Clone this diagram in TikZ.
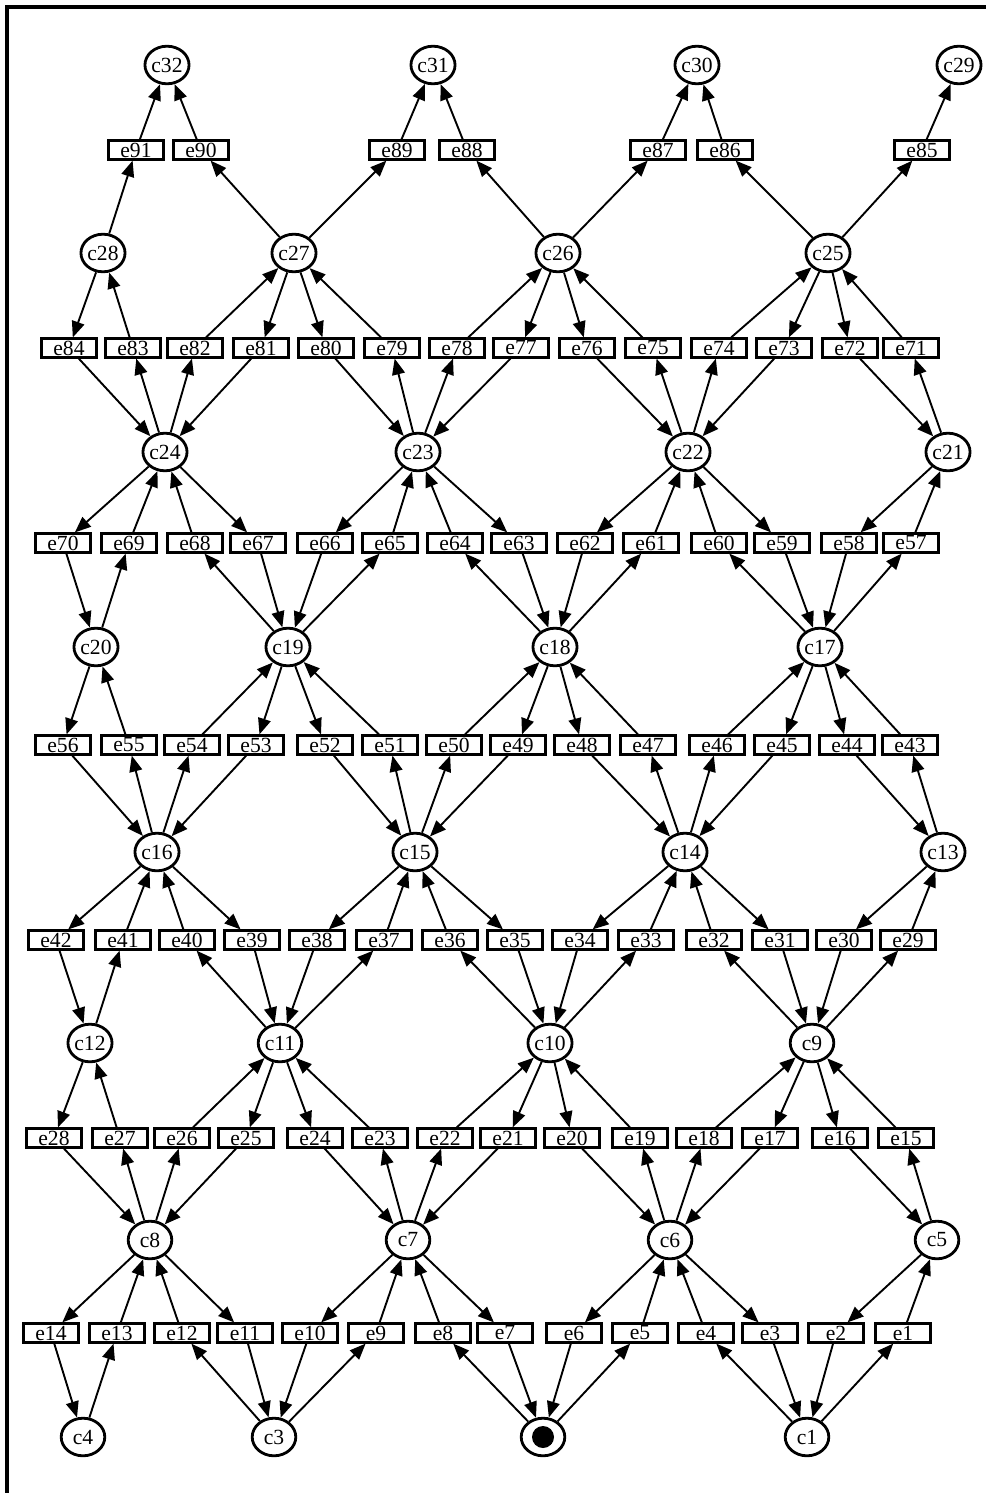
\documentclass[tikz,border=0pt]{standalone}
\usepackage{fontspec}
\setmainfont{Liberation Serif}
\usepackage{tikz}
\usetikzlibrary{arrows.meta, shapes.geometric}
\colorlet{PNline}{black}

\tikzset{
  cond/.style={ellipse, draw=PNline, line width=1.4pt, minimum width=21.8pt, minimum height=18.8pt,
    inner sep=0pt, font=\fontsize{10.8}{12}\selectfont},
  event/.style={rectangle, draw=PNline, line width=1.4pt, minimum width=27.2pt, minimum height=9.2pt,
    inner sep=0pt, font=\fontsize{10.8}{12}\selectfont},
  arc/.style={PNline, line width=0.95pt, -{Triangle[length=8pt,width=6.4pt]}},
  token/.style={circle, fill=PNline, inner sep=0pt, minimum size=11pt}
}

\begin{document}
\begin{tikzpicture}[x=0.5pt, y=-0.5pt]
        \useasboundingbox (0,0) rectangle (986,1493);
        \draw[PNline, line width=2pt] (7,1493) -- (7,7) -- (986,7);
        % conditions
        \foreach \n/\x/\y in {c32/167/65, c31/433/65, c30/697/65, c29/959/65,
            c28/103/253, c27/294/253, c26/558/253, c25/828/253,
            c24/165/452, c23/418/452, c22/688/452, c21/948/452,
            c20/96/647, c19/288/647, c18/555/647, c17/820/647,
            c16/157/852, c15/415/852, c14/685/852, c13/943/852,
            c12/90/1043, c11/280/1043, c10/550/1043, c9/812/1043,
            c8/150/1240, c7/408/1240, c6/670/1240, c5/937/1240,
            c4/83/1437, c3/274/1437, c2/543/1437, c1/807/1437}
          \node[cond] (\n) at (\x,\y) {\n};
        \node[token] (tok) at (c2) {};
        % events
        \foreach \n/\x/\y in {e91/136/150, e90/201/150, e89/397/150, e88/467/150,
            e87/658/150, e86/725/150, e85/922/150,
            e84/69/348, e83/133/348, e82/195/348, e81/261/348, e80/326/348, e79/392/348, e78/457/348,
            e77/521/348, e76/587/348, e75/653/348, e74/719/348, e73/784/348, e72/850/348, e71/911/348,
            e70/63/543, e69/129/543, e68/195/543, e67/258/543, e66/325/543, e65/390/543, e64/455/543,
            e63/519/543, e62/585/543, e61/651/543, e60/719/543, e59/782/543, e58/849/543, e57/911/543,
            e56/63/745, e55/129/745, e54/192/745, e53/256/745, e52/325/745, e51/390/745, e50/454/745,
            e49/518/745, e48/582/745, e47/648/745, e46/717/745, e45/782/745, e44/847/745, e43/910/745,
            e42/56/940, e41/123/940, e40/187/940, e39/252/940, e38/317/940, e37/384/940, e36/450/940,
            e35/515/940, e34/580/940, e33/646/940, e32/714/940, e31/780/940, e30/844/940, e29/908/940,
            e28/54/1138, e27/120/1138, e26/182/1138, e25/246/1138, e24/315/1138, e23/380/1138, e22/445/1138,
            e21/508/1138, e20/572/1138, e19/640/1138, e18/704/1138, e17/770/1138, e16/840/1138, e15/906/1138,
            e14/51/1333, e13/117/1333, e12/182/1333, e11/245/1333, e10/310/1333, e9/376/1333, e8/443/1333,
            e7/505/1333, e6/574/1333, e5/640/1333, e4/706/1333, e3/770/1333, e2/836/1333, e1/903/1333}
          \node[event] (\n) at (\x,\y) {\n};
        % arcs: input condition / event / output condition
        \foreach \a/\t/\b in {c28/e91/c32, c27/e90/c32, c27/e89/c31, c26/e88/c31,
            c26/e87/c30, c25/e86/c30, c25/e85/c29,
            c28/e84/c24, c24/e83/c28, c24/e82/c27, c27/e81/c24, c27/e80/c23, c23/e79/c27, c23/e78/c26,
            c26/e77/c23, c26/e76/c22, c22/e75/c26, c22/e74/c25, c25/e73/c22, c25/e72/c21, c21/e71/c25,
            c24/e70/c20, c20/e69/c24, c19/e68/c24, c24/e67/c19, c23/e66/c19, c19/e65/c23, c18/e64/c23,
            c23/e63/c18, c22/e62/c18, c18/e61/c22, c17/e60/c22, c22/e59/c17, c21/e58/c17, c17/e57/c21,
            c20/e56/c16, c16/e55/c20, c16/e54/c19, c19/e53/c16, c19/e52/c15, c15/e51/c19, c15/e50/c18,
            c18/e49/c15, c18/e48/c14, c14/e47/c18, c14/e46/c17, c17/e45/c14, c17/e44/c13, c13/e43/c17,
            c16/e42/c12, c12/e41/c16, c11/e40/c16, c16/e39/c11, c15/e38/c11, c11/e37/c15, c10/e36/c15,
            c15/e35/c10, c14/e34/c10, c10/e33/c14, c9/e32/c14, c14/e31/c9, c13/e30/c9, c9/e29/c13,
            c12/e28/c8, c8/e27/c12, c8/e26/c11, c11/e25/c8, c11/e24/c7, c7/e23/c11, c7/e22/c10,
            c10/e21/c7, c10/e20/c6, c6/e19/c10, c6/e18/c9, c9/e17/c6, c9/e16/c5, c5/e15/c9,
            c8/e14/c4, c4/e13/c8, c3/e12/c8, c8/e11/c3, c7/e10/c3, c3/e9/c7, c2/e8/c7,
            c7/e7/c2, c6/e6/c2, c2/e5/c6, c1/e4/c6, c6/e3/c1, c5/e2/c1, c1/e1/c5}
          {
            \draw[arc] (\a) -- (\t);
            \draw[arc] (\t) -- (\b);
          }
      \end{tikzpicture}
\end{document}
